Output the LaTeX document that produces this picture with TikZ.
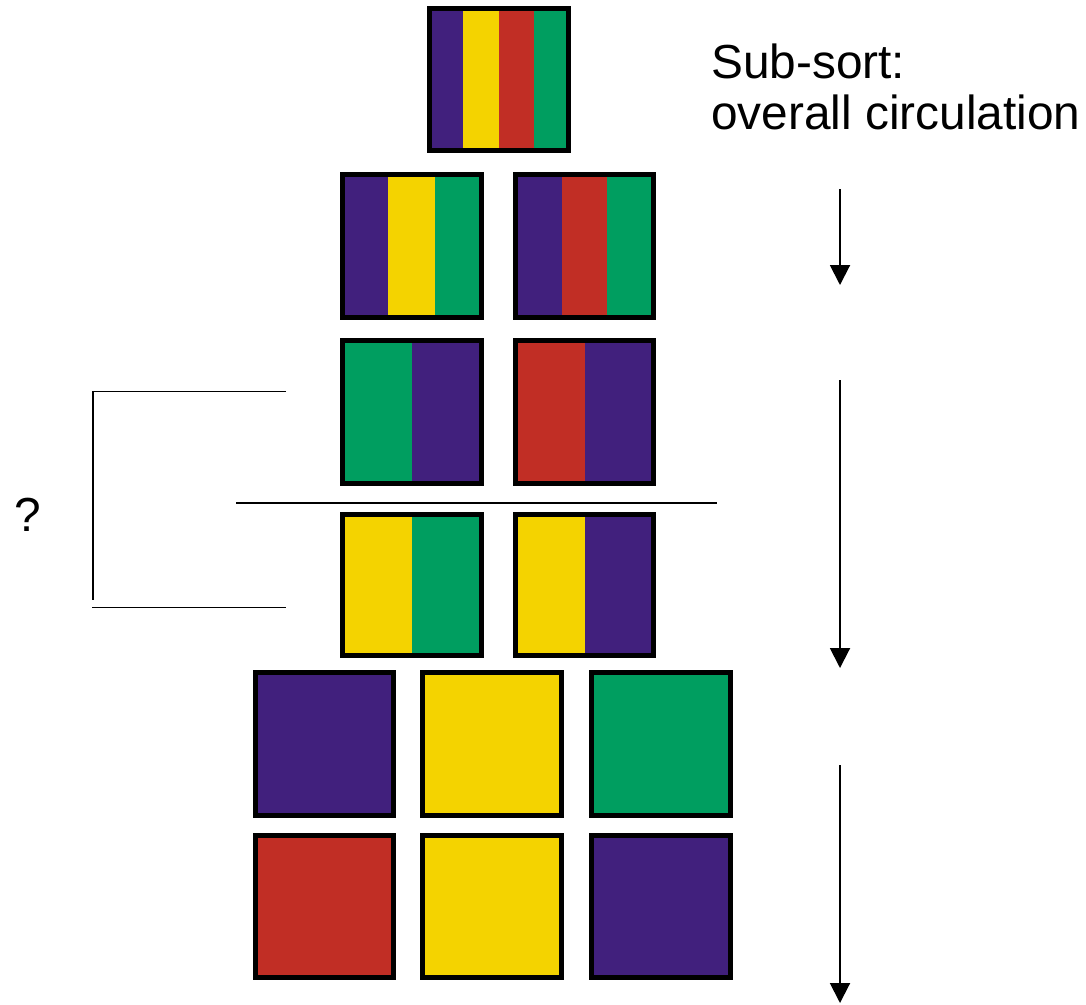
\documentclass[tikz,border=0pt]{standalone}
\usepackage{fontspec}
\setmainfont{Liberation Sans}
\usetikzlibrary{arrows.meta}
\definecolor{cpurple}{HTML}{41207D}
\definecolor{cyellow}{HTML}{F4D300}
\definecolor{cred}{HTML}{C12E25}
\definecolor{cgreen}{HTML}{009E60}
\tikzset{
  cbox/.style={draw=black, line width=5pt, inner sep=0pt, outer sep=0pt},
  thinline/.style={line width=1.5pt},
  flow/.style={line width=2pt, -{Triangle[width=20pt,length=20pt]}},
  lbl/.style={font=\fontsize{47.8}{51}\selectfont, inner sep=0pt}
}
\newcommand\stripe[5]{\fill[#5] (#1,#2) rectangle (#3,#4);}
\begin{document}
\begin{tikzpicture}[x=1pt,y=-1pt]
\useasboundingbox (0,0) rectangle (1086,1004);
% top box  outer 427-571 x 6-153
\stripe{429.5}{8.5}{463}{150.5}{cpurple}
\stripe{463}{8.5}{499}{150.5}{cyellow}
\stripe{499}{8.5}{534}{150.5}{cred}
\stripe{534}{8.5}{568.5}{150.5}{cgreen}
\node[cbox, minimum width=139pt, minimum height=142pt] (top) at (499,79.5) {};
% row 2 outer y 172-320
\stripe{342.5}{174.5}{388}{317.5}{cpurple}
\stripe{388}{174.5}{435}{317.5}{cyellow}
\stripe{435}{174.5}{481.5}{317.5}{cgreen}
\node[cbox, minimum width=139pt, minimum height=143pt] (r2a) at (412,246) {};
\stripe{515.5}{174.5}{562}{317.5}{cpurple}
\stripe{562}{174.5}{607}{317.5}{cred}
\stripe{607}{174.5}{653.5}{317.5}{cgreen}
\node[cbox, minimum width=138pt, minimum height=143pt] (r2b) at (584.5,246) {};
% row 3 outer y 338-486
\stripe{342.5}{340.5}{412}{483.5}{cgreen}
\stripe{412}{340.5}{481.5}{483.5}{cpurple}
\node[cbox, minimum width=139pt, minimum height=143pt] (r3a) at (412,412) {};
\stripe{515.5}{340.5}{585}{483.5}{cred}
\stripe{585}{340.5}{653.5}{483.5}{cpurple}
\node[cbox, minimum width=138pt, minimum height=143pt] (r3b) at (584.5,412) {};
% row 4 outer y 512-658
\stripe{342.5}{514.5}{412}{655.5}{cyellow}
\stripe{412}{514.5}{481.5}{655.5}{cgreen}
\node[cbox, minimum width=139pt, minimum height=141pt] (r4a) at (412,585) {};
\stripe{515.5}{514.5}{585}{655.5}{cyellow}
\stripe{585}{514.5}{653.5}{655.5}{cpurple}
\node[cbox, minimum width=138pt, minimum height=141pt] (r4b) at (584.5,585) {};
% row 5 outer y 670-818
\node[cbox, fill=cpurple, minimum width=138pt, minimum height=143pt] (r5a) at (324.5,744) {};
\node[cbox, fill=cyellow, minimum width=139pt, minimum height=143pt] (r5b) at (492,744) {};
\node[cbox, fill=cgreen, minimum width=139pt, minimum height=143pt] (r5c) at (661,744) {};
% row 6 outer y 833-980
\node[cbox, fill=cred, minimum width=138pt, minimum height=142pt] (r6a) at (324.5,906.5) {};
\node[cbox, fill=cyellow, minimum width=139pt, minimum height=142pt] (r6b) at (492,906.5) {};
\node[cbox, fill=cpurple, minimum width=139pt, minimum height=142pt] (r6c) at (661,906.5) {};
% separator line
\coordinate (sepL) at (236,503);
\coordinate (sepR) at (717,503);
\draw[thinline] (sepL) -- (sepR);
% bracket
\coordinate (brTopR) at (286,391.5);
\coordinate (brTopL) at (92,391.5);
\coordinate (brBot) at (93,600);
\coordinate (brLowL) at (92,607.5);
\coordinate (brLowR) at (286,607.5);
\draw[thinline] (brTopR) -- (brTopL) -- ++(1,0) |- (brBot);
\draw[thinline] (brLowL) -- (brLowR);
\node[lbl, anchor=base] (q) at (28,531) {?};
% text
\node[lbl, anchor=base west] (t1) at (711,78) {Sub-sort:};
\node[lbl, anchor=base west] (t2) at (711,129) {overall circulation};
% arrows
\coordinate (a1s) at (840,189);
\coordinate (a1e) at (840,285);
\coordinate (a2s) at (840,380);
\coordinate (a2e) at (840,668);
\coordinate (a3s) at (840,765);
\coordinate (a3e) at (840,1003);
\draw[flow] (a1s) -- (a1e);
\draw[flow] (a2s) -- (a2e);
\draw[flow] (a3s) -- (a3e);
\end{tikzpicture}
\end{document}
